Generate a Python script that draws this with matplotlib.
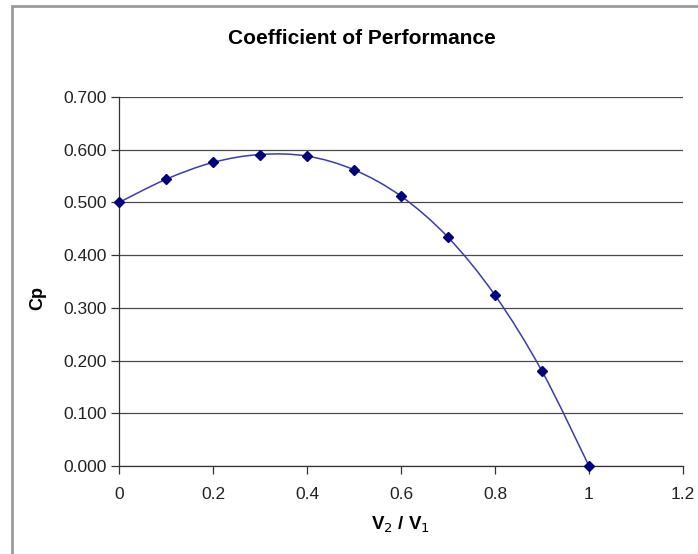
import numpy as np
import matplotlib
matplotlib.use('Agg')
import matplotlib.pyplot as plt
from matplotlib.path import Path
from matplotlib.patches import PathPatch, Rectangle

# values
ratio = [0, 0.1, 0.2, 0.3, 0.4, 0.5, 0.6, 0.7, 0.8, 0.9, 1.0]
cp = [0.500, 0.544, 0.576, 0.591, 0.588, 0.562, 0.512, 0.434, 0.324, 0.180, 0.000]
yticks = [0.0, 0.1, 0.2, 0.3, 0.4, 0.5, 0.6, 0.7]
xticks = [0, 0.2, 0.4, 0.6, 0.8, 1.0, 1.2]
xtick_labels = ['0', '0.2', '0.4', '0.6', '0.8', '1', '1.2']

plt.rcParams['font.family'] = ['Liberation Sans', 'DejaVu Sans']

fig = plt.figure(figsize=(6.98, 5.54), dpi=100)
ax = fig.add_axes([0.1705, 0.1588, 0.808, 0.666])

# gray frame of the chart area (cut off at right and bottom like the source)
fig.patches.append(Rectangle((12/698, -0.1), 1.2, 1 - 6/554 + 0.1, transform=fig.transFigure,
                             fill=False, edgecolor='#9a9a9a', lw=2))

# smoothed line like excel (catmull-rom as bezier segments)
def smooth_path(xs, ys):
    pts = np.column_stack([xs, ys])
    verts = [pts[0]]
    codes = [Path.MOVETO]
    n = len(pts)
    for i in range(n - 1):
        p0 = pts[i - 1] if i > 0 else pts[i]
        p1 = pts[i]
        p2 = pts[i + 1]
        p3 = pts[i + 2] if i + 2 < n else pts[i + 1]
        c1 = p1 + (p2 - p0) / 6
        c2 = p2 - (p3 - p1) / 6
        verts += [c1, c2, p2]
        codes += [Path.CURVE4] * 3
    return Path(verts, codes)

ax.add_patch(PathPatch(smooth_path(ratio, cp), facecolor='none', edgecolor='#3b3bb0', lw=1.1, zorder=3))
ax.plot(ratio, cp, ls='', marker='D', ms=5.5, color='#000080', zorder=4, clip_on=False)

ax.set_xlim(0, 1.2)
ax.set_ylim(0, 0.7)
ax.set_xticks(xticks)
ax.set_xticklabels(xtick_labels)
ax.set_yticks(yticks)
ax.set_yticklabels(['%.3f' % v for v in yticks])
ax.yaxis.grid(True, color='#4a4a4a', lw=0.9)
ax.set_axisbelow(True)

for s in ['top', 'right']:
    ax.spines[s].set_visible(False)
for s in ['left', 'bottom']:
    ax.spines[s].set_color('#333333')
    ax.spines[s].set_linewidth(0.9)
ax.tick_params(direction='out', length=6, width=0.9, color='#333333', labelsize=12.5, labelcolor='#222222', pad=3)
ax.tick_params(axis='x', pad=9)

fig.text(362/698, 1 - 38/554, 'Coefficient of Performance', fontsize=15, fontweight='bold',
         ha='center', va='center')
ax.set_xlabel('V$_2$ / V$_1$', fontsize=13.5, fontweight='bold', labelpad=9)
ax.set_ylabel('Cp', fontsize=13, fontweight='bold')
ax.yaxis.set_label_coords(38/698, 1 - 298/554, transform=fig.transFigure)
ax.yaxis.label.set_va('center')

fig.savefig('out.png', dpi=100)
